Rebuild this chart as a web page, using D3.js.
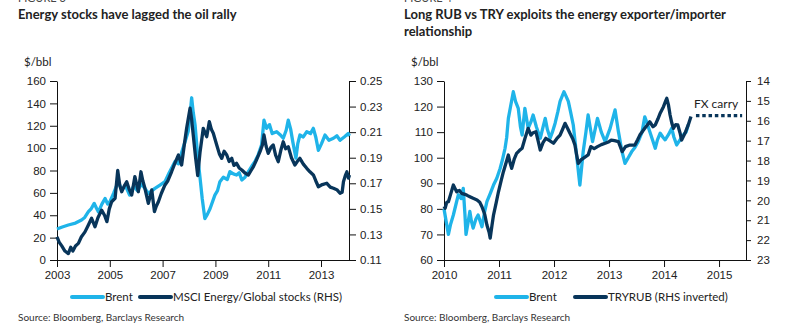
<!DOCTYPE html>
<html>
<head>
<meta charset="utf-8">
<script src="https://cdn.jsdelivr.net/npm/d3@7"></script>
<style>
  body { margin: 0; background: #fff; }
  svg { display: block; font-family: Lato, "Open Sans", sans-serif; }
  .tick text { fill: #222; font-size: 11.5px; }
  .domain, .tick line { stroke: #111; }
</style>
</head>
<body>
<div id="chart"></div>
<script>
// ---- data: [decimal year, value] ----
const brentLeft = [
  [2003.0,27.7],[2003.2,29.5],[2003.43,31.3],[2003.7,33],[2003.93,35.8],[2004.05,38],[2004.19,43.2],[2004.3,46],
  [2004.41,50.6],[2004.5,46],[2004.57,43],[2004.7,50],[2004.82,55],[2004.92,50],[2005.0,52],[2005.15,60],
  [2005.32,70],[2005.45,63],[2005.6,66],[2005.75,58],[2005.9,66],[2006.05,62],[2006.2,68],[2006.33,64],
  [2006.46,59.6],[2006.6,62],[2006.71,64],[2006.9,67],[2007.09,70],[2007.25,78],[2007.47,88],[2007.6,86],
  [2007.72,96],[2007.85,105.8],[2007.97,115],[2008.04,130],[2008.10,145],[2008.16,132],[2008.23,120.7],[2008.32,95],
  [2008.42,73],[2008.5,55],[2008.6,37],[2008.7,41],[2008.8,46],[2008.98,58],[2009.08,62],[2009.17,70],
  [2009.3,74],[2009.45,72],[2009.55,79],[2009.68,77],[2009.8,76],[2009.9,78],[2010.0,71.5],[2010.12,74],
  [2010.25,79],[2010.38,84],[2010.5,88],[2010.62,94],[2010.75,103],[2010.84,125],[2010.94,117.7],[2011.05,121],
  [2011.15,113],[2011.32,114.7],[2011.45,112],[2011.57,108.8],[2011.68,116],[2011.76,125],[2011.85,117],[2011.93,105.8],
  [2012.05,91],[2012.12,104],[2012.2,111.7],[2012.33,110],[2012.46,114.7],[2012.6,113],[2012.71,117.7],[2012.8,110],
  [2012.9,98],[2013.02,104],[2013.15,111.7],[2013.3,107],[2013.47,108.8],[2013.6,111],[2013.72,107],[2013.88,110],
  [2014.03,113],[2014.08,111]
];

const msciRatio = [
  [2003.0,0.128],[2003.08,0.124],[2003.18,0.121],[2003.3,0.117],[2003.43,0.115],[2003.52,0.12],[2003.6,0.117],[2003.7,0.121],
  [2003.81,0.123],[2003.92,0.128],[2004.06,0.132],[2004.18,0.137],[2004.31,0.1426],[2004.38,0.139],[2004.44,0.136],[2004.55,0.143],
  [2004.69,0.149],[2004.8,0.145],[2004.89,0.14],[2004.98,0.15],[2005.07,0.1556],[2005.2,0.1582],[2005.3,0.18],[2005.38,0.168],
  [2005.45,0.1634],[2005.55,0.168],[2005.64,0.1712],[2005.74,0.165],[2005.83,0.1608],[2005.95,0.1752],[2006.08,0.1634],[2006.18,0.179],
  [2006.25,0.172],[2006.33,0.1661],[2006.46,0.1543],[2006.59,0.1648],[2006.69,0.1478],[2006.76,0.152],[2006.84,0.1556],[2006.95,0.162],
  [2007.09,0.1687],[2007.2,0.172],[2007.34,0.179],[2007.47,0.186],[2007.6,0.1921],[2007.72,0.1843],[2007.82,0.2],[2007.91,0.213],
  [2008.04,0.2287],[2008.1,0.22],[2008.16,0.2078],[2008.25,0.19],[2008.33,0.176],[2008.42,0.1947],[2008.54,0.213],[2008.67,0.2064],
  [2008.77,0.2182],[2008.85,0.212],[2008.92,0.2091],[2009.05,0.2],[2009.15,0.193],[2009.24,0.1895],[2009.33,0.195],[2009.43,0.1921],
  [2009.52,0.187],[2009.62,0.1895],[2009.7,0.184],[2009.8,0.1856],[2009.9,0.182],[2010.0,0.1804],[2010.12,0.178],[2010.25,0.1765],
  [2010.35,0.18],[2010.44,0.183],[2010.55,0.188],[2010.69,0.1947],[2010.78,0.2],[2010.84,0.2078],[2010.92,0.199],[2011.0,0.1934],
  [2011.1,0.198],[2011.19,0.2],[2011.28,0.192],[2011.38,0.1869],[2011.48,0.196],[2011.57,0.2025],[2011.66,0.197],[2011.76,0.1986],
  [2011.88,0.19],[2012.01,0.1843],[2012.1,0.187],[2012.2,0.1895],[2012.33,0.185],[2012.46,0.1817],[2012.58,0.179],[2012.71,0.1765],
  [2012.8,0.172],[2012.9,0.1673],[2013.05,0.169],[2013.22,0.17],[2013.35,0.167],[2013.47,0.1661],[2013.6,0.165],[2013.72,0.1622],
  [2013.8,0.163],[2013.85,0.1712],[2013.92,0.176],[2013.98,0.179],[2014.04,0.174],[2014.08,0.1765]
];

const brentRight = [
  [2010.0,80],[2010.04,75],[2010.08,70],[2010.12,74],[2010.17,77.6],[2010.22,82],[2010.26,85.5],[2010.31,84],
  [2010.35,88],[2010.38,78],[2010.4,70],[2010.44,75],[2010.47,79],[2010.5,75],[2010.53,72.5],[2010.58,76],
  [2010.62,77.6],[2010.66,75],[2010.69,73],[2010.74,79],[2010.78,82.8],[2010.84,86],[2010.9,89.3],[2010.96,92],
  [2011.02,95.8],[2011.06,99],[2011.11,103.7],[2011.14,108],[2011.17,115.4],[2011.21,120],[2011.26,125.8],[2011.3,122],
  [2011.35,119.3],[2011.39,112],[2011.42,108.9],[2011.47,119.3],[2011.53,111.5],[2011.58,114],[2011.62,116.7],[2011.68,112],
  [2011.75,107.6],[2011.8,112],[2011.84,115.4],[2011.88,111],[2011.93,107.6],[2011.97,110],[2012.02,113.5],[2012.07,118],
  [2012.11,122],[2012.18,125.8],[2012.22,124],[2012.26,122],[2012.3,118],[2012.35,112.8],[2012.41,101],[2012.47,89.3],
  [2012.53,102.3],[2012.58,110],[2012.62,116.7],[2012.7,106.3],[2012.79,115.4],[2012.86,110],[2012.93,106.3],[2013.02,111.5],
  [2013.11,118.7],[2013.17,110.3],[2013.23,103],[2013.29,97.8],[2013.35,100],[2013.41,102.3],[2013.47,104],[2013.53,106.3],
  [2013.6,110],[2013.65,116],[2013.7,113],[2013.74,110.3],[2013.79,107],[2013.84,103.7],[2013.88,107],[2013.93,109.6],
  [2013.98,108],[2014.02,107],[2014.08,109],[2014.14,111.5],[2014.18,108],[2014.23,105],[2014.29,107],[2014.35,108.9],
  [2014.4,110],[2014.44,112.8]
];

const tryRub = [
  [2010.0,20.3],[2010.02,20.4],[2010.05,20.1],[2010.08,20.07],[2010.12,19.7],[2010.17,19.23],[2010.2,19.4],[2010.23,19.57],
  [2010.28,19.5],[2010.32,19.65],[2010.38,19.7],[2010.42,19.75],[2010.47,19.82],[2010.53,19.9],[2010.6,19.98],[2010.65,20.1],
  [2010.69,20.32],[2010.74,20.7],[2010.78,21.24],[2010.82,21.6],[2010.84,21.9],[2010.87,21.3],[2010.9,20.74],[2010.95,20.1],
  [2010.99,19.57],[2011.04,19.0],[2011.08,18.56],[2011.13,18.1],[2011.17,17.72],[2011.2,18.1],[2011.23,18.39],[2011.28,17.9],
  [2011.32,17.64],[2011.37,17.5],[2011.42,17.38],[2011.47,16.9],[2011.53,16.38],[2011.58,16.72],[2011.62,16.6],[2011.67,16.55],
  [2011.71,17.0],[2011.75,17.47],[2011.8,17.1],[2011.85,16.88],[2011.92,17.0],[2011.99,17.13],[2012.05,16.9],[2012.11,16.72],
  [2012.16,16.4],[2012.2,16.13],[2012.25,16.4],[2012.29,16.63],[2012.34,16.9],[2012.38,17.22],[2012.41,17.7],[2012.44,18.14],
  [2012.49,17.97],[2012.55,17.85],[2012.62,17.72],[2012.67,17.3],[2012.73,17.4],[2012.79,17.3],[2012.86,17.2],[2012.93,17.13],
  [2013.0,17.05],[2013.04,16.97],[2013.1,17.0],[2013.17,17.05],[2013.24,17.55],[2013.3,17.3],[2013.38,17.22],[2013.47,17.22],
  [2013.52,16.95],[2013.56,16.72],[2013.65,16.38],[2013.7,16.2],[2013.74,16.05],[2013.8,16.3],[2013.84,16.21],[2013.89,15.9],
  [2013.93,15.62],[2013.99,15.29],[2014.03,15.0],[2014.05,14.87],[2014.08,15.2],[2014.11,15.71],[2014.14,16.1],[2014.17,16.38],
  [2014.21,16.2],[2014.25,16.21],[2014.29,16.6],[2014.32,16.97],[2014.38,16.63],[2014.44,16.21],[2014.49,15.79]
];

const fxCarry = [[2014.58,15.74],[2015.42,15.74]];

const leftYTicks = [0, 20, 40, 60, 80, 100, 120, 140, 160];
const leftRTicks = [0.11, 0.13, 0.15, 0.17, 0.19, 0.21, 0.23, 0.25];
const leftXTicks = [2003, 2005, 2007, 2009, 2011, 2013];
const rightYTicks = [60, 70, 80, 90, 100, 110, 120, 130];
const rightRTicks = [14, 15, 16, 17, 18, 19, 20, 21, 22, 23];
const rightXTicks = [2010, 2011, 2012, 2013, 2014, 2015];

const cyan = "#1fb4e9";
const navy = "#08355a";

const svg = d3.select("#chart").append("svg")
  .attr("width", 786).attr("height", 335);

function panel(o) {
  const g = svg.append("g");
  const x = d3.scaleLinear().domain(o.xDomain).range([o.left, o.right]);
  const yL = d3.scaleLinear().domain(o.yDomain).range([o.bottom, o.top]);
  const yR = d3.scaleLinear().domain(o.rDomain).range([o.bottom, o.top]);

  // titles (figure number is cropped at the top edge, as in the source)
  g.append("text").attr("x", o.tx).attr("y", 2)
    .style("font-size", "11px").style("fill", "#444").text(o.fig);
  o.title.forEach((t, i) => {
    g.append("text").attr("x", o.tx).attr("y", 19 + i * 17)
      .style("font-size", "13px").style("font-weight", 700).style("fill", "#222").text(t);
  });
  g.append("text").attr("x", o.left - 33).attr("y", 66)
    .style("font-size", "11.5px").style("fill", "#222").text("$/bbl");

  // axes
  g.append("g").attr("transform", `translate(${o.left},0)`)
    .call(d3.axisLeft(yL).tickValues(o.yTicks).tickSize(7).tickSizeOuter(0).tickPadding(4));
  g.append("g").attr("transform", `translate(${o.right},0)`)
    .call(d3.axisRight(yR).tickValues(o.rTicks).tickSize(o.rTick).tickSizeOuter(0).tickPadding(o.rPad).tickFormat(o.rFormat));
  g.append("g").attr("transform", `translate(0,${o.bottom})`)
    .call(d3.axisBottom(x).tickValues(o.xTicks).tickSize(7).tickSizeOuter(0).tickPadding(4).tickFormat(d3.format("d")));

  const line = (ys) => d3.line().x(d => x(d[0])).y(d => ys(d[1]));

  g.append("path").datum(o.cyanData)
    .attr("d", line(yL)).attr("fill", "none").attr("stroke", cyan)
    .attr("stroke-width", 3.3).attr("stroke-linejoin", "round");
  g.append("path").datum(o.navyData)
    .attr("d", line(yR)).attr("fill", "none").attr("stroke", navy)
    .attr("stroke-width", 3.3).attr("stroke-linejoin", "round");

  if (o.carry) {
    g.append("path").datum(o.carry)
      .attr("d", line(yR)).attr("fill", "none").attr("stroke", navy)
      .attr("stroke-width", 3.3).attr("stroke-dasharray", "3.5,2.8");
    g.append("text").attr("x", x(o.carry[0][0]) - 2).attr("y", yR(o.carry[0][1]) - 8)
      .style("font-size", "12px").style("fill", "#222").text("FX carry");
  }

  // legend
  const ly = 297;
  o.legend.forEach(it => {
    g.append("line").attr("x1", it.x).attr("x2", it.x + 31).attr("y1", ly).attr("y2", ly)
      .attr("stroke", it.c).attr("stroke-width", 4).attr("stroke-linecap", "round");
    g.append("text").attr("x", it.x + 33).attr("y", ly + 4)
      .style("font-size", "11.5px").style("fill", "#222").text(it.t);
  });

  g.append("text").attr("x", o.tx).attr("y", 321)
    .style("font-size", "10px").style("fill", "#333").text("Source: Bloomberg, Barclays Research");
}

panel({
  fig: "FIGURE 3", tx: 18,
  title: ["Energy stocks have lagged the oil rally"],
  left: 57, right: 349, top: 81, bottom: 260,
  xDomain: [2003, 2014.06], yDomain: [0, 160], rDomain: [0.11, 0.25],
  xTicks: leftXTicks, yTicks: leftYTicks, rTicks: leftRTicks, rFormat: d3.format(".2f"),
  rTick: 7, rPad: 4,
  cyanData: brentLeft, navyData: msciRatio,
  legend: [{x: 72, c: cyan, t: "Brent"}, {x: 140, c: navy, t: "MSCI Energy/Global stocks (RHS)"}]
});

panel({
  fig: "FIGURE 4", tx: 404,
  title: ["Long RUB vs TRY exploits the energy exporter/importer", "relationship"],
  left: 444, right: 746, top: 81, bottom: 260,
  xDomain: [2010, 2015.49], yDomain: [60, 130], rDomain: [23, 14],
  xTicks: rightXTicks, yTicks: rightYTicks, rTicks: rightRTicks, rFormat: d3.format("d"),
  rTick: 5, rPad: 6,
  cyanData: brentRight, navyData: tryRub, carry: fxCarry,
  legend: [{x: 496, c: cyan, t: "Brent"}, {x: 575, c: navy, t: "TRYRUB (RHS inverted)"}]
});
</script>
</body>
</html>
